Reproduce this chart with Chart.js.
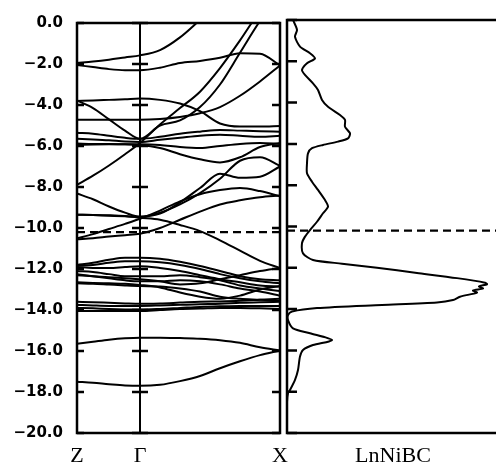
<!DOCTYPE html>
<html>
<head>
<meta charset="utf-8">
<script src="https://cdn.jsdelivr.net/npm/chart.js@4"></script>
<style>
  html, body { margin: 0; padding: 0; background: #fff; }
  body { width: 496px; height: 467px; overflow: hidden; position: relative; }
  #bands { position: absolute; left: 0; top: 0; }
  #dos { position: absolute; left: 284px; top: 0; }
</style>
</head>
<body>
<canvas id="bands" width="300" height="467"></canvas>
<canvas id="dos" width="220" height="467"></canvas>
<script>
// k path Z -> Γ -> X (arbitrary length units), sampled columns
const kPath = [0, 16, 32, 48, 63, 83, 103, 123, 143, 163, 183, 203];
const symmetryPoints = [0, 63, 203];
const symmetryLabels = ['Z', 'Γ', 'X'];
const energyTicks = [0, -2, -4, -6, -8, -10, -12, -14, -16, -18, -20];
const fermiLevel = -10.2;

// band energies (eV) at each kPath column
const upperBands = [
  [-1.95, -1.88, -1.79, -1.68, -1.58, -1.32, -0.7, 0.15, 1.0, 1.8, 2.6, 3.2],
  [-2.05, -2.15, -2.25, -2.3, -2.3, -2.18, -1.95, -1.85, -1.7, -1.47, -1.5, -2.07],
  [-7.9, -7.45, -6.95, -6.4, -5.85, -4.95, -4.15, -3.35, -2.2, -0.85, 0.6, 1.8],
  [-3.78, -4.15, -4.7, -5.25, -5.65, -5.0, -4.75, -4.1, -3.0, -1.45, 0.1, 1.4],
  [-3.8, -3.78, -3.75, -3.72, -3.68, -3.75, -3.93, -4.3, -4.9, -5.05, -5.05, -5.02],
  [-4.72, -4.72, -4.72, -4.72, -4.72, -4.68, -4.58, -4.4, -4.1, -3.55, -2.85, -2.07],
  [-5.35, -5.4, -5.5, -5.6, -5.65, -5.55, -5.4, -5.3, -5.22, -5.25, -5.28, -5.3],
  [-5.65, -5.68, -5.72, -5.78, -5.8, -5.7, -5.6, -5.5, -5.45, -5.5, -5.55, -5.5],
  [-5.95, -5.93, -5.92, -5.92, -5.92, -5.95, -6.05, -6.1, -6.0, -5.9, -5.85, -5.9],
  [-5.88, -5.9, -5.9, -5.92, -5.95, -6.1, -6.4, -6.65, -6.8, -6.55, -6.05, -5.85]
];
const middleBands = [
  [-8.32, -8.6, -8.95, -9.25, -9.45, -9.25, -8.85, -8.3, -7.6, -6.72, -6.55, -6.97],
  [-9.35, -9.36, -9.38, -9.42, -9.5, -9.6, -9.85, -10.15, -10.6, -11.1, -11.6, -11.95],
  [-9.35, -9.37, -9.4, -9.43, -9.45, -9.3, -8.75, -8.05, -7.35, -7.55, -7.5, -7.0],
  [-10.5, -10.3, -10.05, -9.8, -9.55, -9.15, -8.7, -8.35, -8.15, -8.05, -8.2, -8.45],
  [-10.55, -10.5, -10.42, -10.35, -10.28, -10.0, -9.6, -9.2, -8.85, -8.65, -8.5, -8.42]
];
const lowerBands = [
  [-11.8, -11.7, -11.55, -11.45, -11.45, -11.5, -11.65, -11.85, -12.1, -12.35, -12.5, -12.55],
  [-11.85, -11.8, -11.7, -11.62, -11.62, -11.67, -11.8, -12.0, -12.25, -12.45, -12.6, -12.7],
  [-11.9, -11.95, -11.95, -11.9, -11.86, -11.95, -12.1, -12.3, -12.5, -12.65, -12.8, -12.85],
  [-12.1, -12.15, -12.25, -12.35, -12.35, -12.35, -12.3, -12.4, -12.55, -12.8, -12.95, -13.07],
  [-12.25, -12.35, -12.45, -12.55, -12.6, -12.6, -12.55, -12.6, -12.75, -12.95, -13.1, -13.3],
  [-12.7, -12.72, -12.76, -12.8, -12.83, -12.85, -12.95, -13.1, -13.35, -13.45, -13.5, -13.56],
  [-12.65, -12.68, -12.7, -12.72, -12.78, -12.9, -13.15, -13.35, -13.45, -13.3, -13.0, -12.83],
  [-12.3, -12.35, -12.4, -12.45, -12.5, -12.6, -12.75, -12.7, -12.5, -12.3, -12.1, -11.95],
  [-13.6, -13.62, -13.65, -13.68, -13.7, -13.68, -13.64, -13.6, -13.58, -13.55, -13.5, -13.45],
  [-13.75, -13.78, -13.8, -13.8, -13.8, -13.78, -13.75, -13.72, -13.7, -13.65, -13.62, -13.6],
  [-13.9, -13.92, -13.95, -13.97, -13.98, -13.95, -13.9, -13.85, -13.82, -13.8, -13.8, -13.8],
  [-14.05, -14.05, -14.05, -14.05, -14.05, -14.0, -13.95, -13.93, -13.9, -13.9, -13.92, -13.95]
];
const deepBands = [
  [-15.65, -15.55, -15.45, -15.38, -15.35, -15.35, -15.37, -15.4, -15.47, -15.6, -15.82, -15.98],
  [-17.5, -17.55, -17.62, -17.68, -17.7, -17.65, -17.47, -17.22, -16.84, -16.5, -16.2, -15.97]
];

// total density of states (arbitrary units) vs energy (eV)
const dosEnergy = [0.0, -0.48, -0.81, -1.29, -1.61, -1.86, -2.1, -2.42, -2.66, -3.07, -3.39, -3.87,
  -4.2, -4.6, -4.84, -5.17, -5.49, -5.73, -5.89, -6.05, -6.21, -6.46, -6.94, -7.42, -7.83, -8.23,
  -8.72, -9.04, -9.36, -9.77, -10.17, -10.49, -10.81, -11.3, -11.62, -11.8, -12.0, -12.25, -12.5,
  -12.72, -12.8, -12.9, -13.0, -13.1, -13.2, -13.4, -13.56, -13.68, -13.8, -13.95, -14.12, -14.29,
  -14.53, -14.93, -15.17, -15.5, -15.74, -15.98, -16.3, -16.95, -17.43, -17.92, -18.07, -18.5, -20.0];
const dosStates = [6, 10, 8, 13, 23, 28, 20, 15, 18, 26, 31, 35,
  41, 53, 58, 58, 63, 61, 51, 36, 25, 21, 20, 20, 25, 31,
  38, 41, 36, 30, 23, 18, 15, 16, 26, 55, 90, 130, 170,
  198, 200, 192, 196, 186, 190, 173, 166, 150, 95, 30, 5, 1,
  1, 6, 23, 45, 26, 16, 13, 11, 8, 3, 1, 0, 0];

Chart.defaults.color = '#000';
Chart.defaults.animation = false;

// box around each panel plus inward tick marks at the energy ticks
const panelFrame = {
  id: 'panelFrame',
  afterDatasetsDraw(chart, args, opts) {
    const { ctx, chartArea: a } = chart;
    const xs = chart.scales.x, ys = chart.scales.y;
    ctx.save();
    ctx.strokeStyle = '#000';
    ctx.lineWidth = 2.5;
    ctx.strokeRect(a.left, a.top, a.right - a.left, a.bottom - a.top);
    ctx.beginPath();
    energyTicks.forEach(v => {
      const py = ys.getPixelForValue(v);
      opts.marks.forEach(m => {
        const px = xs.getPixelForValue(m.at);
        ctx.moveTo(px - m.back, py);
        ctx.lineTo(px + m.forward, py);
      });
    });
    ctx.stroke();
    ctx.restore();
  }
};

const bandLine = e => ({
  data: e.map((v, i) => ({ x: kPath[i], y: v })),
  borderColor: '#000',
  borderWidth: 2,
  pointRadius: 0,
  cubicInterpolationMode: 'monotone',
  fill: false
});

const fermiLine = xMax => ({
  data: [{ x: 0, y: fermiLevel }, { x: xMax, y: fermiLevel }],
  borderColor: '#000',
  borderWidth: 2.2,
  borderDash: [8, 5],
  pointRadius: 0,
  fill: false
});

const kMax = symmetryPoints[symmetryPoints.length - 1];

new Chart(document.getElementById('bands'), {
  type: 'line',
  data: {
    datasets: [...upperBands, ...middleBands, ...lowerBands, ...deepBands].map(bandLine)
      .concat([fermiLine(kMax)])
  },
  options: {
    responsive: false,
    layout: { padding: { left: 0, right: 20, top: 20, bottom: 0 } },
    plugins: {
      legend: { display: false },
      tooltip: { enabled: false },
      panelFrame: { marks: [
        { at: symmetryPoints[0], back: 0, forward: 7 },
        { at: symmetryPoints[1], back: 8, forward: 8 },
        { at: symmetryPoints[2], back: 8, forward: 0 }
      ] }
    },
    scales: {
      x: {
        type: 'linear', min: 0, max: kMax,
        afterBuildTicks: s => { s.ticks = symmetryPoints.map(v => ({ value: v })); },
        afterFit: s => { s.height = 34; },
        ticks: {
          autoSkip: false, maxRotation: 0, padding: 10,
          font: { family: 'Liberation Serif', size: 22 },
          callback: v => symmetryLabels[symmetryPoints.indexOf(v)]
        },
        grid: {
          drawTicks: false, lineWidth: 2,
          color: c => (c.tick && c.tick.value === symmetryPoints[1]) ? '#000' : 'rgba(0,0,0,0)'
        },
        border: { display: false }
      },
      y: {
        type: 'linear', min: -20, max: 0,
        afterBuildTicks: s => { s.ticks = energyTicks.map(v => ({ value: v })); },
        afterFit: s => { s.width = 77; },
        ticks: {
          padding: 14,
          font: { family: 'DejaVu Sans', size: 15, weight: 'bold' },
          callback: v => (v < 0 ? '\u2212' : '') + Math.abs(v).toFixed(1)
        },
        grid: { display: false, drawTicks: false },
        border: { display: false }
      }
    }
  },
  plugins: [panelFrame]
});

new Chart(document.getElementById('dos'), {
  type: 'line',
  data: {
    datasets: [
      {
        data: dosEnergy.map((e, i) => ({ x: dosStates[i], y: e })),
        borderColor: '#000',
        borderWidth: 2,
        pointRadius: 0,
        tension: 0.25,
        fill: false
      },
      fermiLine(212)
    ]
  },
  options: {
    responsive: false,
    layout: { padding: { left: 3, right: 5, top: 20, bottom: 0 } },
    plugins: {
      legend: { display: false },
      tooltip: { enabled: false },
      panelFrame: { marks: [{ at: 0, back: 0, forward: 10 }] }
    },
    scales: {
      x: {
        type: 'linear', min: 0, max: 212,
        afterFit: s => { s.height = 34; },
        ticks: { display: false },
        grid: { display: false, drawTicks: false },
        border: { display: false },
        title: {
          display: true, text: 'LnNiBC', padding: { top: 10, bottom: -2 },
          font: { family: 'Liberation Serif', size: 22 }
        }
      },
      y: { type: 'linear', min: -20, max: 0, display: false }
    }
  },
  plugins: [panelFrame]
});
</script>
</body>
</html>
